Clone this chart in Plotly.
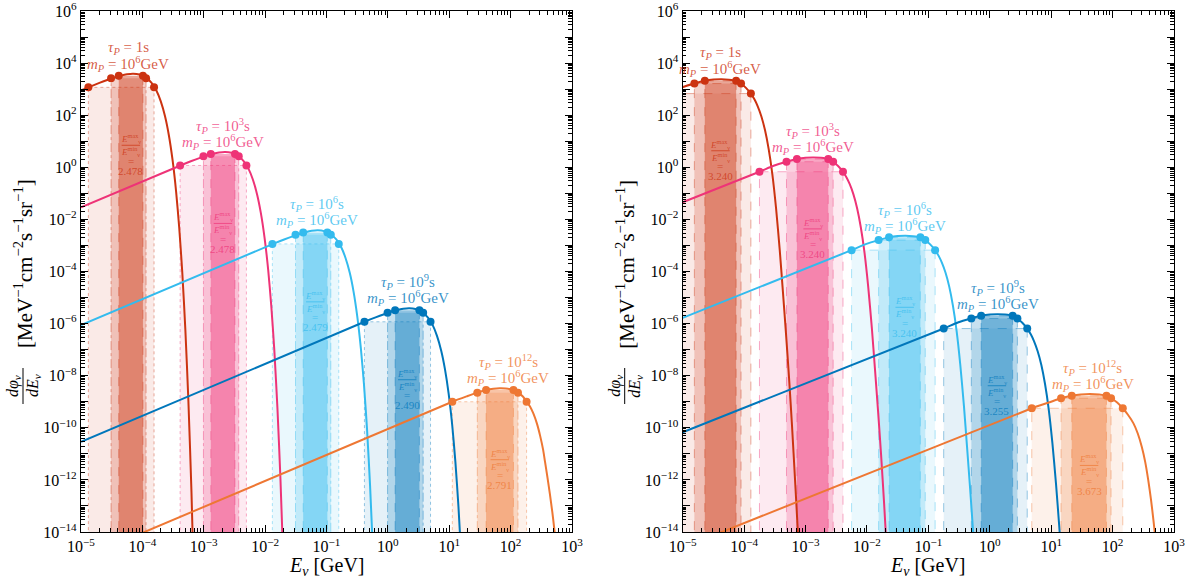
import plotly.graph_objects as go

# ---------------- data (log10 values) ----------------
colors = ['#CC3311', '#EE3377', '#33BBEE', '#0077BB', '#EE7733']
tau_text = ['1s', '10<sup>3</sup>s', '10<sup>6</sup>s', '10<sup>9</sup>s', '10<sup>12</sup>s']
mass_text = '10<sup>6</sup>GeV'

# ---- left panel curves: log10(E/GeV), log10(flux)
L_red_E = [-5.0, -4.86, -4.70, -4.55, -4.45, -4.35, -4.25, -4.15, -4.05, -3.95, -3.85, -3.77, -3.70, -3.63, -3.57, -3.51, -3.45, -3.40, -3.35, -3.30, -3.25, -3.20, -3.15]
L_red_F = [2.95, 3.09, 3.24, 3.37, 3.45, 3.52, 3.57, 3.59, 3.56, 3.46, 3.24, 2.94, 2.53, 1.95, 1.25, 0.31, -0.94, -2.31, -4.03, -6.22, -8.99, -12.48, -16.89]
L_mag_E = [-5.0, -3.36, -3.20, -3.05, -2.95, -2.85, -2.75, -2.65, -2.55, -2.45, -2.35, -2.27, -2.20, -2.13, -2.07, -2.01, -1.95, -1.90, -1.85, -1.80, -1.75, -1.70, -1.65]
L_mag_F = [-1.54, 0.09, 0.24, 0.37, 0.45, 0.52, 0.57, 0.59, 0.56, 0.46, 0.24, -0.06, -0.47, -1.05, -1.75, -2.69, -3.94, -5.31, -7.03, -9.22, -11.99, -15.48, -19.89]
L_cyan_E = [-5.0, -1.85, -1.69, -1.54, -1.44, -1.34, -1.24, -1.14, -1.04, -0.94, -0.84, -0.76, -0.69, -0.62, -0.56, -0.50, -0.44, -0.39, -0.34, -0.29, -0.24, -0.19]
L_cyan_F = [-6.06, -2.92, -2.77, -2.64, -2.56, -2.49, -2.44, -2.42, -2.45, -2.55, -2.77, -3.07, -3.48, -4.06, -4.76, -5.70, -6.95, -8.32, -10.04, -12.23, -15.00, -18.49]
L_blue_E = [-5.0, -0.36, -0.20, -0.05, 0.05, 0.15, 0.25, 0.35, 0.45, 0.55, 0.65, 0.73, 0.80, 0.87, 0.93, 0.99, 1.05, 1.10, 1.15, 1.20, 1.25]
L_blue_F = [-10.54, -5.91, -5.76, -5.63, -5.55, -5.48, -5.43, -5.41, -5.44, -5.54, -5.76, -6.06, -6.47, -7.05, -7.75, -8.69, -9.94, -11.31, -13.03, -15.22, -17.99]
L_orange_E = [-5.0, 1.05, 1.30, 1.457, 1.60, 1.72, 1.82, 1.92, 2.04, 2.12, 2.20, 2.26, 2.32, 2.37, 2.43, 2.48, 2.53, 2.56, 2.60, 2.64, 2.68, 2.71, 2.76]
L_orange_F = [-15.03, -9.0, -8.78, -8.65, -8.55, -8.50, -8.48, -8.49, -8.55, -8.65, -8.80, -9.0, -9.2, -9.45, -9.85, -10.3, -10.85, -11.3, -11.9, -12.55, -13.25, -13.85, -14.9]

# six dots per curve: outer L, middle L, inner L, inner R, middle R, outer R (log10 E)
L_dots = [[-4.88, -4.51, -4.385, -3.991, -3.94, -3.81],
          [-3.385, -3.005, -2.885, -2.491, -2.43, -2.305],
          [-1.882, -1.505, -1.38, -0.986, -0.93, -0.80],
          [-0.382, -0.005, 0.118, 0.514, 0.575, 0.695],
          [1.05, 1.457, 1.60, 2.046, 2.12, 2.26]]
# flux level (log10) of the outer, middle, inner dot pairs
L_levels = [[3.07, 3.42, 3.51], [0.07, 0.42, 0.51], [-2.94, -2.59, -2.50],
            [-5.93, -5.58, -5.49], [-9.0, -8.65, -8.55]]
L_ratio = ['2.478', '2.478', '2.479', '2.490', '2.791']

# ---- right panel curves
R_red_E = [-5.25, -5.02, -4.81, -4.64, -4.50, -4.37, -4.25, -4.13, -4.05, -3.97, -3.89, -3.83, -3.78, -3.72, -3.66, -3.60, -3.54, -3.48, -3.42, -3.37, -3.32, -3.27, -3.22, -3.17, -3.12, -3.07]
R_red_F = [2.83, 3.06, 3.215, 3.32, 3.368, 3.38, 3.365, 3.32, 3.215, 3.05, 2.83, 2.60, 2.35, 1.96, 1.43, 0.70, -0.27, -1.57, -3.17, -4.72, -6.32, -8.02, -9.92, -12.02, -14.22, -16.62]
R_mag_E = [-5.0, -3.75, -3.52, -3.31, -3.14, -3.00, -2.87, -2.75, -2.63, -2.55, -2.47, -2.39, -2.33, -2.28, -2.22, -2.16, -2.10, -2.04, -1.98, -1.92, -1.87, -1.82, -1.77, -1.72, -1.67, -1.62]
R_mag_F = [-1.34, -0.17, 0.06, 0.215, 0.32, 0.368, 0.38, 0.365, 0.32, 0.215, 0.05, -0.17, -0.40, -0.65, -1.04, -1.57, -2.30, -3.27, -4.57, -6.17, -7.72, -9.32, -11.02, -12.92, -15.02, -17.22]
R_cyan_E = [-5.0, -2.25, -2.02, -1.81, -1.64, -1.50, -1.37, -1.25, -1.13, -1.05, -0.97, -0.89, -0.83, -0.78, -0.72, -0.66, -0.60, -0.54, -0.48, -0.42, -0.37, -0.32, -0.27, -0.22, -0.17]
R_cyan_F = [-5.78, -3.18, -2.95, -2.795, -2.69, -2.642, -2.63, -2.645, -2.69, -2.795, -2.96, -3.18, -3.41, -3.66, -4.05, -4.58, -5.31, -6.28, -7.58, -9.18, -10.73, -12.33, -14.03, -15.93, -18.03]
R_blue_E = [-5.0, -0.75, -0.52, -0.31, -0.14, 0.00, 0.13, 0.25, 0.37, 0.45, 0.53, 0.61, 0.67, 0.72, 0.78, 0.84, 0.90, 0.96, 1.02, 1.08, 1.13, 1.18, 1.23]
R_blue_F = [-10.17, -6.19, -5.96, -5.805, -5.70, -5.652, -5.64, -5.655, -5.70, -5.805, -5.97, -6.19, -6.42, -6.67, -7.06, -7.59, -8.32, -9.29, -10.59, -12.19, -13.74, -15.34, -17.04]
R_orange_E = [-5.0, 0.684, 0.95, 1.161, 1.335, 1.48, 1.633, 1.78, 1.90, 1.975, 2.07, 2.166, 2.25, 2.34, 2.41, 2.475, 2.53, 2.58, 2.625, 2.665, 2.69, 2.72]
R_orange_F = [-14.6, -9.25, -9.04, -8.865, -8.77, -8.72, -8.70, -8.72, -8.77, -8.865, -9.02, -9.25, -9.50, -9.83, -10.22, -10.73, -11.30, -12.0, -12.75, -13.54, -14.1, -14.9]

R_dots = [[-5.25, -4.81, -4.64, -4.13, -4.05, -3.89],
          [-3.75, -3.31, -3.14, -2.63, -2.55, -2.39],
          [-2.25, -1.81, -1.64, -1.13, -1.05, -0.89],
          [-0.75, -0.30, -0.14, 0.373, 0.45, 0.61],
          [0.684, 1.161, 1.335, 1.90, 1.975, 2.166]]
R_levels = [[2.83, 3.215, 3.32], [-0.17, 0.215, 0.32], [-3.18, -2.795, -2.69],
            [-6.19, -5.805, -5.70], [-9.25, -8.865, -8.77]]
R_ratio = ['3.240', '3.240', '3.240', '3.255', '3.673']

# x-ticks and y-ticks
x_exps = list(range(-5, 4))
y_exps = list(range(-14, 7))

# ---------------- layout constants (positions, not data) ----------------
L_label_x = [-4.23, -2.68, -1.16, 0.33, 1.96]
R_label_x = [-4.39, -2.88, -1.38, 0.14, 1.68]
FONT = 'Liberation Serif'
W, H = 1193, 581
PX_PER_DEC_Y = 521 / 20.0


def rgba(hexc, a):
    hexc = hexc.lstrip('#')
    r, g, b = int(hexc[0:2], 16), int(hexc[2:4], 16), int(hexc[4:6], 16)
    return f'rgba({r},{g},{b},{a})'


def sup(n):
    s = str(n).replace('-', '\u2212')
    return f'10<sup>{s}</sup>'


fig = go.Figure()

panels = [
    dict(xa='x', ya='y',
         curves=[(L_red_E, L_red_F), (L_mag_E, L_mag_F), (L_cyan_E, L_cyan_F),
                 (L_blue_E, L_blue_F), (L_orange_E, L_orange_F)],
         dots=L_dots, levels=L_levels, ratio=L_ratio, labx=L_label_x,
         edge_dash=['dot', 'dashdot', 'dash'], top_dash=['dot', None, None]),
    dict(xa='x2', ya='y2',
         curves=[(R_red_E, R_red_F), (R_mag_E, R_mag_F), (R_cyan_E, R_cyan_F),
                 (R_blue_E, R_blue_F), (R_orange_E, R_orange_F)],
         dots=R_dots, levels=R_levels, ratio=R_ratio, labx=R_label_x,
         edge_dash=['dash', 'dash', 'dash'], top_dash=['dash', 'dash', 'dash']),
]

band_alpha = [0.10, 0.22, 0.43]
annotations = []
shapes = []
BOTTOM = 1e-16

for p in panels:
    xa, ya = p['xa'], p['ya']
    for i, c in enumerate(colors):
        d = p['dots'][i]
        lv = p['levels'][i]
        for k in range(3):
            x0, x1 = 10 ** d[k], 10 ** d[5 - k]
            yt = 10 ** lv[k]
            fig.add_trace(go.Scatter(x=[x0, x0, x1, x1, x0], y=[BOTTOM, yt, yt, BOTTOM, BOTTOM],
                                     fill='toself', fillcolor=rgba(c, band_alpha[k]),
                                     mode='none', hoverinfo='skip', showlegend=False,
                                     xaxis=xa, yaxis=ya))
    for i, c in enumerate(colors):
        d = p['dots'][i]
        lv = p['levels'][i]
        for k in range(3):
            x0, x1 = 10 ** d[k], 10 ** d[5 - k]
            yt = 10 ** lv[k]
            fig.add_trace(go.Scatter(x=[x0, x0, None, x1, x1], y=[BOTTOM, yt, None, yt, BOTTOM],
                                     mode='lines', line=dict(color=rgba(c, 0.45), width=0.9,
                                                             dash=p['edge_dash'][k]),
                                     hoverinfo='skip', showlegend=False, xaxis=xa, yaxis=ya))
            if p['top_dash'][k]:
                fig.add_trace(go.Scatter(x=[x0, x1], y=[yt, yt], mode='lines',
                                         line=dict(color=rgba(c, 0.45), width=0.9,
                                                   dash=p['top_dash'][k]),
                                         hoverinfo='skip', showlegend=False, xaxis=xa, yaxis=ya))
    for i, c in enumerate(colors):
        E, F = p['curves'][i]
        fig.add_trace(go.Scatter(x=[10 ** e for e in E], y=[10 ** f for f in F], mode='lines',
                                 line=dict(color=c, width=2, shape='spline', smoothing=0.6),
                                 hoverinfo='skip', showlegend=False, xaxis=xa, yaxis=ya))
    for i, c in enumerate(colors):
        d = p['dots'][i]
        lv = p['levels'][i]
        ys = [lv[0], lv[1], lv[2], lv[2], lv[1], lv[0]]
        fig.add_trace(go.Scatter(x=[10 ** e for e in d], y=[10 ** f for f in ys], mode='markers',
                                 marker=dict(color=c, size=8), cliponaxis=True,
                                 hoverinfo='skip', showlegend=False, xaxis=xa, yaxis=ya))
    for i, c in enumerate(colors):
        d = p['dots'][i]
        F = p['curves'][i][1]
        peak = max(F)
        xc = (d[2] + d[3]) / 2
        yb = peak - 71.5 / PX_PER_DEC_Y
        fig.add_trace(go.Scatter(x=[10 ** (xc - 0.15), 10 ** (xc + 0.15)], y=[10 ** yb, 10 ** yb],
                                 mode='lines', line=dict(color=rgba(c, 0.7), width=1),
                                 hoverinfo='skip', showlegend=False, xaxis=xa, yaxis=ya))
    for i, c in enumerate(colors):
        d = p['dots'][i]
        F = p['curves'][i][1]
        peak = max(F)
        lx = p['labx'][i]
        annotations.append(dict(x=lx, y=peak, xref=xa, yref=ya, yshift=26, showarrow=False,
                                text=f'<i>τ<sub>P</sub></i> = {tau_text[i]}',
                                font=dict(family=FONT, size=15, color=rgba(c, 0.8)),
                                xanchor='center', yanchor='middle'))
        annotations.append(dict(x=lx, y=peak, xref=xa, yref=ya, yshift=10, showarrow=False,
                                text=f'<i>m<sub>P</sub></i> = {mass_text}',
                                font=dict(family=FONT, size=15, color=rgba(c, 0.8)),
                                xanchor='center', yanchor='middle'))
        xc = (d[2] + d[3]) / 2
        tc = rgba(c, 0.75)
        annotations.append(dict(x=xc, y=peak, xref=xa, yref=ya, yshift=-65, showarrow=False,
                                text='<i>E</i><sup>max</sup><sub>ν</sub>',
                                font=dict(family=FONT, size=9, color=tc), yanchor='middle'))
        annotations.append(dict(x=xc, y=peak, xref=xa, yref=ya, yshift=-78, showarrow=False,
                                text='<i>E</i><sup>min</sup><sub>ν</sub>',
                                font=dict(family=FONT, size=9, color=tc), yanchor='middle'))
        annotations.append(dict(x=xc, y=peak, xref=xa, yref=ya, yshift=-87, showarrow=False,
                                text='=', font=dict(family=FONT, size=11, color=tc),
                                yanchor='middle'))
        annotations.append(dict(x=xc, y=peak, xref=xa, yref=ya, yshift=-97, showarrow=False,
                                text=p['ratio'][i], font=dict(family=FONT, size=11, color=tc),
                                yanchor='middle'))

xdom_L = [81 / W, 572 / W]
xdom_R = [682.7 / W, 1174 / W]
ydom = [1 - 532 / H, 1 - 11 / H]
unit_text = ('[MeV<sup>−1</sup>cm<sup>−2</sup>s<sup>−1</sup>sr<sup>−1</sup>]')
for xd, off in [(xdom_L, 0.0), (xdom_R, 601.7)]:
    annotations.append(dict(x=(xd[0] + xd[1]) / 2, y=1 - 566 / H, xref='paper', yref='paper',
                            text='<i>E<sub>ν</sub></i> [GeV]', showarrow=False,
                            font=dict(family=FONT, size=20, color='black'),
                            xanchor='center', yanchor='middle'))
    # y title: rotated fraction d phi / d E followed by the unit bracket
    annotations.append(dict(x=(23 + off) / W, y=1 - 264 / H, xref='paper', yref='paper',
                            text=unit_text, textangle=-90, showarrow=False,
                            font=dict(family=FONT, size=21, color='black'),
                            xanchor='center', yanchor='middle'))
    annotations.append(dict(x=(13 + off) / W, y=1 - 386 / H, xref='paper', yref='paper',
                            text='<i>dφ<sub>ν</sub></i>', textangle=-90, showarrow=False,
                            font=dict(family=FONT, size=16, color='black'),
                            xanchor='center', yanchor='middle'))
    annotations.append(dict(x=(33 + off) / W, y=1 - 386 / H, xref='paper', yref='paper',
                            text='<i>dE<sub>ν</sub></i>', textangle=-90, showarrow=False,
                            font=dict(family=FONT, size=16, color='black'),
                            xanchor='center', yanchor='middle'))
    shapes.append(dict(type='line', xref='paper', yref='paper',
                       x0=(23 + off) / W, x1=(23 + off) / W,
                       y0=1 - 368 / H, y1=1 - 404 / H, line=dict(color='black', width=1)))

x_minor = [m * 10.0 ** k for k in range(-5, 3) for m in range(2, 10)]
y_minor = [m * 10.0 ** k for k in range(-14, 6) for m in range(2, 10)]


def xaxis(dom, anchor):
    return dict(type='log', domain=dom, anchor=anchor, range=[-5, 3], automargin=False,
                ticklabeloverflow='allow',
                tickvals=[10.0 ** k for k in x_exps], ticktext=[sup(k) for k in x_exps],
                showline=True, linecolor='black', linewidth=1.3, mirror='allticks',
                ticks='inside', ticklen=7, tickwidth=1, tickcolor='black',
                showgrid=False, zeroline=False,
                tickfont=dict(family=FONT, size=16, color='black'),
                minor=dict(ticks='inside', ticklen=3.5, tickwidth=0.8, tickcolor='black',
                           tickvals=x_minor, showgrid=False))


def yaxis(anchor):
    return dict(type='log', domain=ydom, anchor=anchor, range=[-14, 6], automargin=False,
                ticklabeloverflow='allow',
                tickvals=[10.0 ** k for k in y_exps],
                ticktext=[sup(k) if k % 2 == 0 else '' for k in y_exps],
                showline=True, linecolor='black', linewidth=1.3, mirror='allticks',
                ticks='inside', ticklen=7, tickwidth=1, tickcolor='black',
                showgrid=False, zeroline=False,
                tickfont=dict(family=FONT, size=16, color='black'),
                minor=dict(ticks='inside', ticklen=3.5, tickwidth=0.8, tickcolor='black',
                           tickvals=y_minor, showgrid=False))


fig.update_layout(
    width=W, height=H, margin=dict(l=0, r=0, t=0, b=0, autoexpand=False),
    paper_bgcolor='white', plot_bgcolor='white', showlegend=False,
    xaxis=xaxis(xdom_L, 'y'), yaxis=yaxis('x'),
    xaxis2=xaxis(xdom_R, 'y2'), yaxis2=yaxis('x2'),
    annotations=annotations, shapes=shapes,
    font=dict(family=FONT),
)

fig.write_html('out.html')
